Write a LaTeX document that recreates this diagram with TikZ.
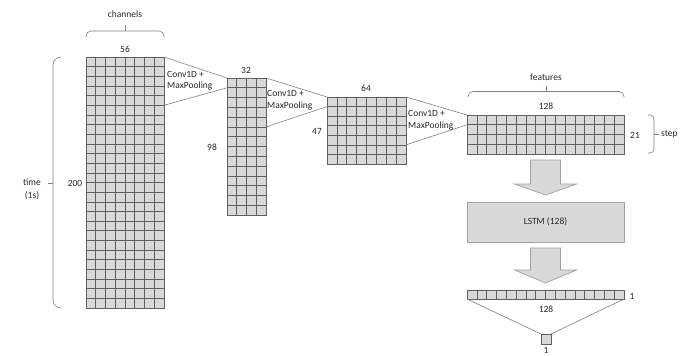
\documentclass[tikz,border=0pt]{standalone}
\usepackage{fontspec}
\setmainfont{Carlito}
\usetikzlibrary{calc}

\definecolor{cellfill}{HTML}{D9D9D9}
\definecolor{cellline}{HTML}{606060}
\definecolor{boxline}{HTML}{A0A0A0}
\definecolor{guide}{HTML}{7F7F7F}
\definecolor{txt}{HTML}{262626}

\tikzset{
  gridbox/.style={rectangle, fill=cellfill, draw=cellline, line width=0.6bp,
    inner sep=0pt, outer sep=0pt, anchor=north west},
  cellrule/.style={draw=cellline, line width=0.6bp},
  funnel/.style={draw=guide, line width=0.6bp},
  brace/.style={draw=guide, line width=0.6bp},
  bigarrow/.style={fill=cellfill, draw=boxline, line width=0.7bp, line join=miter},
  lstmbox/.style={rectangle, fill=cellfill, draw=boxline, line width=0.7bp,
    inner sep=0pt, outer sep=0pt, anchor=north west,
    minimum width=157bp, minimum height=40bp},
  lab/.style={text=txt, inner sep=0pt, font=\fontsize{9.5bp}{11.5bp}\selectfont},
  convlab/.style={lab, align=left, anchor=west},
}

% a filled block of cells: name, left, top, width, height, columns, rows
\newcommand\cellgrid[7]{%
  \node[gridbox, minimum width=#4bp, minimum height=#5bp] (#1) at (#2,#3) {};
  \pgfmathtruncatemacro\gcols{#6-1}%
  \foreach \i in {1,...,\gcols}
    \draw[cellrule] ($(#1.north west)!\i/#6!(#1.north east)$) --
                    ($(#1.south west)!\i/#6!(#1.south east)$);
  \ifnum#7>1
    \pgfmathtruncatemacro\grows{#7-1}%
    \foreach \j in {1,...,\grows}
      \draw[cellrule] ($(#1.north west)!\j/#7!(#1.south west)$) --
                      ($(#1.north east)!\j/#7!(#1.south east)$);
  \fi
}

\begin{document}
\begin{tikzpicture}[x=1bp, y=-1bp]
\useasboundingbox (0,0) rectangle (682,355);

% convolution stages
\cellgrid{g1}{86}{57}{78}{251}{8}{26}
\cellgrid{g2}{227}{78}{39}{137}{4}{14}
\cellgrid{g3}{327}{97}{79}{67}{8}{7}
\cellgrid{g4}{467}{115}{157}{39}{16}{4}

% receptive field of each convolution (5 rows -> 1 row)
\draw[funnel] (g1.north east) -- (g2.north west);
\draw[funnel] ($(g1.north east)!5/26!(g1.south east)$) -- ($(g2.north west)!1/14!(g2.south west)$);
\draw[funnel] (g2.north east) -- (g3.north west);
\draw[funnel] ($(g2.north east)!5/14!(g2.south east)$) -- ($(g3.north west)!1/7!(g3.south west)$);
\draw[funnel] (g3.north east) -- (g4.north west);
\draw[funnel] ($(g3.north east)!5/7!(g3.south east)$) -- ($(g4.north west)!1/4!(g4.south west)$);

\node[convlab] (c1) at (167,80.5) {Conv1D +\\MaxPooling};
\node[convlab] (c2) at (267,100) {Conv1D +\\MaxPooling};
\node[convlab] (c3) at (408,120) {Conv1D +\\MaxPooling};

% sizes
\node[lab] (n56) at (125,49) {56};
\node[lab] (n200) at (75,183) {200};
\node[lab] (n32) at (246,70) {32};
\node[lab] (n98) at (212,147) {98};
\node[lab] (n64) at (366,88) {64};
\node[lab] (n47) at (317,131) {47};
\node[lab] (n128) at (546,106) {128};
\node[lab] (n21) at (635,135) {21};

% braces
\draw[brace, rounded corners=5bp] (86,37) -- (86,31) -- (164,31) -- (164,37);
\draw[brace] (125,31) -- (125,25);
\node[lab] (chan) at (125,14) {channels};

\draw[brace, rounded corners=8bp] (60,57) -- (53,57) -- (53,308) -- (60,308);
\draw[brace] (53,183) -- (48,183);
\node[lab, align=center, font=\fontsize{9.5bp}{13bp}\selectfont] (time) at (32,189.5) {time\\(1s)};

\draw[brace, rounded corners=5bp] (468,97) -- (468,91.5) -- (624,91.5) -- (624,97);
\draw[brace] (546,91.5) -- (546,86);
\node[lab] (feat) at (546,77) {features};

\draw[brace, rounded corners=4bp] (648,115) -- (654,115) -- (654,153) -- (648,153);
\draw[brace] (654,134) -- (659,134);
\node[lab, anchor=west] (steps) at (661,134) {step};

% recurrent layer
\node[lstmbox] (lstm) at (467,202) {};
\node[lab] (lstmtxt) at (lstm.center) {LSTM (128)};

\draw[bigarrow] ($(g4.south)+(-15,6)$) -- ++(30,0) -- ++(0,24) -- ++(16,0)
  -- ($(lstm.north)+(0,-7)$) -- ($(g4.south)+(-31,30)$) -- ++(16,0) -- cycle;

% output vector and final unit
\cellgrid{out}{467}{290}{157}{9}{16}{1}
\node[gridbox, minimum size=10bp] (unit) at (541,334) {};

\draw[bigarrow] ($(lstm.south)+(-15,6)$) -- ++(30,0) -- ++(0,22) -- ++(16,0)
  -- ($(out.north)+(0,-7)$) -- ($(lstm.south)+(-31,28)$) -- ++(16,0) -- cycle;

\draw[funnel] (out.south west) -- (unit.north west);
\draw[funnel] (out.south east) -- (unit.north east);

\node[lab] (o1) at (632,296) {1};
\node[lab] (o128) at (546,309) {128};
\node[lab] (u1) at (546,350) {1};
\end{tikzpicture}
\end{document}
